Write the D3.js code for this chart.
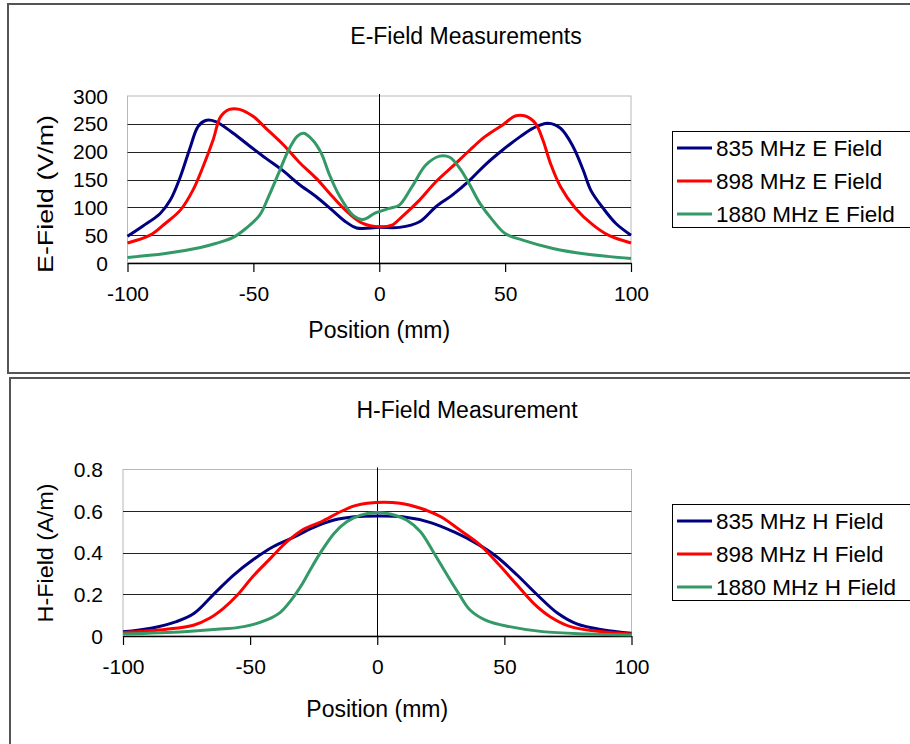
<!DOCTYPE html>
<html>
<head>
<meta charset="utf-8">
<script src="https://cdn.jsdelivr.net/npm/d3@7"></script>
<style>
  body { margin: 0; background: #fff; }
  text { font-family: Arial, "Liberation Sans", sans-serif; fill: #000; }
</style>
</head>
<body>
<svg id="chart" width="910" height="744"></svg>
<script>
// tick labels
var xTicks = [-100, -50, 0, 50, 100];
var eTicks = [0, 50, 100, 150, 200, 250, 300];
var hTicks = [0, 0.2, 0.4, 0.6, 0.8];

// E-field series, [position mm, V/m]
var e835 = [[-100,48],[-94,66],[-87,89],[-83,113],[-79,155],[-75,209],[-72,245],[-69,256],[-65,254],[-58,233],[-52,212],[-45,188],[-38,165],[-32,142],[-25,119],[-18.5,94],[-13,73],[-9,63],[0,64],[8,64],[16,74],[22.5,101],[29,122],[36,149],[42,176],[49,203],[56,227],[61,242],[67,251],[72,242],[77,209],[81,167],[84,131],[89,98],[94,71],[100,50]];
var e898 = [[-100,36],[-91,50],[-85,71],[-79,95],[-74,131],[-70,173],[-66,221],[-63,263],[-59.5,276],[-55.5,276],[-50,263],[-45,242],[-38,212],[-32,182],[-25,152],[-18.5,119],[-12,89],[-6.5,71],[0,65],[5,68],[9,83],[16,113],[22.5,146],[29,173],[36,203],[42,227],[49,248],[54,264],[58,264],[62,251],[65,221],[68,179],[72,137],[78,98],[85,68],[91,50],[100,36]];
var e1880 = [[-100,10],[-85,17],[-71,28],[-65,35],[-58,46],[-53,62],[-47.5,86],[-44,119],[-40,161],[-36,203],[-32.5,228],[-30,233],[-26.5,221],[-23,197],[-20,161],[-16,122],[-10.5,86],[-6.5,78],[-1.5,90],[4,98],[8,104],[13,137],[18.5,176],[24,192],[28,190],[32,170],[36,140],[40,107],[45,77],[50,53],[57,41],[69,26],[82,16],[100,8]];

// H-field series, [position mm, A/m]
var h835 = [[-100,0.02],[-89,0.037],[-79,0.069],[-72,0.109],[-64,0.205],[-56.5,0.293],[-49,0.365],[-41,0.429],[-33,0.474],[-25,0.522],[-17,0.557],[-9,0.573],[0,0.577],[10,0.573],[21,0.545],[30,0.501],[39,0.445],[47,0.381],[55,0.293],[63,0.197],[71,0.109],[78.5,0.058],[89,0.029],[100,0.013]];
var h898 = [[-100,0.016],[-83,0.032],[-72,0.053],[-66,0.085],[-60.5,0.133],[-55,0.197],[-49,0.285],[-42,0.373],[-35.5,0.453],[-29,0.513],[-22,0.549],[-14.5,0.597],[-9,0.625],[-4,0.638],[9,0.638],[17,0.614],[25,0.573],[32.5,0.509],[40.5,0.437],[48,0.341],[55,0.245],[61.5,0.157],[68,0.093],[76,0.045],[86,0.024],[100,0.01]];
var h1880 = [[-100,0.01],[-76,0.021],[-63,0.032],[-52.5,0.045],[-43.5,0.077],[-38,0.115],[-34,0.17],[-30,0.24],[-26.5,0.315],[-22.5,0.397],[-17,0.493],[-12,0.549],[-6.5,0.581],[0,0.593],[5,0.586],[11.5,0.557],[17,0.501],[22,0.405],[27.5,0.293],[32,0.205],[36.5,0.125],[43,0.074],[52,0.045],[65,0.021],[82.5,0.01],[100,0.005]];

var colors = ["#000080", "#ff0000", "#339966"];

var svg = d3.select("#chart");

function drawPanel(p) {
  // outer frame
  svg.append("rect")
    .attr("x", p.frame[0]).attr("y", p.frame[1])
    .attr("width", p.frame[2]).attr("height", p.frame[3])
    .attr("fill", "none").attr("stroke", "#555").attr("stroke-width", 2);

  var x = d3.scaleLinear().domain([-100, 100]).range([p.left, p.right]),
      y = d3.scaleLinear().domain(p.yDomain).range([p.bottom, p.top]);

  var g = svg.append("g");

  // plot border
  g.append("rect")
    .attr("x", p.left).attr("y", p.top)
    .attr("width", p.right - p.left).attr("height", p.bottom - p.top)
    .attr("fill", "none").attr("stroke", "#b8b8b8").attr("stroke-width", 1);

  // gridlines
  g.selectAll(".grid")
    .data(p.yTicks.slice(1, -1))
    .enter().append("line")
    .attr("x1", p.left).attr("x2", p.right)
    .attr("y1", function(d) { return Math.round(y(d)) + 0.5; })
    .attr("y2", function(d) { return Math.round(y(d)) + 0.5; })
    .attr("stroke", "#222").attr("stroke-width", 1);

  // zero line
  g.append("line")
    .attr("x1", Math.round(x(0)) + 0.5).attr("x2", Math.round(x(0)) + 0.5)
    .attr("y1", p.top - 2).attr("y2", p.bottom)
    .attr("stroke", "#000").attr("stroke-width", 1);

  // y labels
  g.selectAll(".ylab")
    .data(p.yTicks)
    .enter().append("text")
    .attr("x", p.yLabelRight)
    .attr("y", function(d) { return y(d); })
    .attr("dy", "0.36em")
    .attr("text-anchor", "end")
    .style("font-size", "21px")
    .text(p.yFormat);

  // x axis
  var xAxis = g.append("g")
    .attr("transform", "translate(0," + p.bottom + ")")
    .call(d3.axisBottom(x).tickValues(xTicks).tickSize(9).tickPadding(14).tickSizeOuter(0)
      .tickFormat(function(d) { return String(d); }));
  xAxis.select(".domain").attr("stroke", "#000").attr("stroke-width", 1.5);
  xAxis.selectAll(".tick line").attr("stroke", "#000").attr("stroke-width", 1.2);
  xAxis.selectAll("text")
    .attr("font-family", null)
    .style("font-size", "21px")
    .attr("fill", "#000");

  // series
  var line = d3.line()
    .x(function(d) { return x(d[0]); })
    .y(function(d) { return y(d[1]); })
    .curve(d3.curveCatmullRom.alpha(0.5));

  p.series.forEach(function(s, i) {
    g.append("path")
      .datum(s)
      .attr("fill", "none")
      .attr("stroke", colors[i])
      .attr("stroke-width", 3)
      .attr("stroke-linejoin", "round")
      .attr("d", line);
  });

  // titles
  svg.append("text")
    .attr("x", p.titleX).attr("y", p.titleY)
    .attr("text-anchor", "middle")
    .style("font-size", "23px")
    .text(p.title);

  svg.append("text")
    .attr("x", x(0)).attr("y", p.xTitleY)
    .attr("text-anchor", "middle")
    .style("font-size", "23px")
    .text("Position (mm)");

  svg.append("text")
    .attr("transform", "translate(53," + p.yTitleY + ")rotate(-90)")
    .attr("text-anchor", "middle")
    .attr("textLength", p.yTitleLen)
    .attr("lengthAdjust", "spacingAndGlyphs")
    .style("font-size", "22px")
    .text(p.yTitle);

  // legend
  var lg = svg.append("g");
  lg.append("rect")
    .attr("x", 672.5).attr("y", p.legendTop + 0.5)
    .attr("width", 260).attr("height", 96)
    .attr("fill", "#fff").attr("stroke", "#000").attr("stroke-width", 1);

  p.names.forEach(function(n, i) {
    var ly = p.legendTop + 17 + i * 33;
    lg.append("line")
      .attr("x1", 677).attr("x2", 712)
      .attr("y1", ly).attr("y2", ly)
      .attr("stroke", colors[i]).attr("stroke-width", 3);
    lg.append("text")
      .attr("x", 716).attr("y", ly)
      .attr("dy", "0.36em")
      .style("font-size", "22.5px")
      .text(n);
  });
}

drawPanel({
  frame: [8, 4, 920, 369],
  left: 127.5, right: 631, top: 96, bottom: 263,
  yDomain: [0, 300], yTicks: eTicks,
  yFormat: function(d) { return d; },
  yLabelRight: 108,
  series: [e835, e898, e1880],
  names: ["835 MHz E Field", "898 MHz E Field", "1880 MHz E Field"],
  title: "E-Field Measurements", titleX: 466, titleY: 44,
  xTitleY: 338,
  yTitle: "E-Field (V/m)", yTitleY: 194, yTitleLen: 158,
  legendTop: 131
});

drawPanel({
  frame: [10, 378, 920, 380],
  left: 123, right: 631.5, top: 469.5, bottom: 636,
  yDomain: [0, 0.8], yTicks: hTicks,
  yFormat: function(d) { return d === 0 ? "0" : d3.format(".1f")(d); },
  yLabelRight: 103,
  series: [h835, h898, h1880],
  names: ["835 MHz H Field", "898 MHz H Field", "1880 MHz H Field"],
  title: "H-Field Measurement", titleX: 467, titleY: 418,
  xTitleY: 717,
  yTitle: "H-Field (A/m)", yTitleY: 553, yTitleLen: 139,
  legendTop: 504
});
</script>
</body>
</html>
